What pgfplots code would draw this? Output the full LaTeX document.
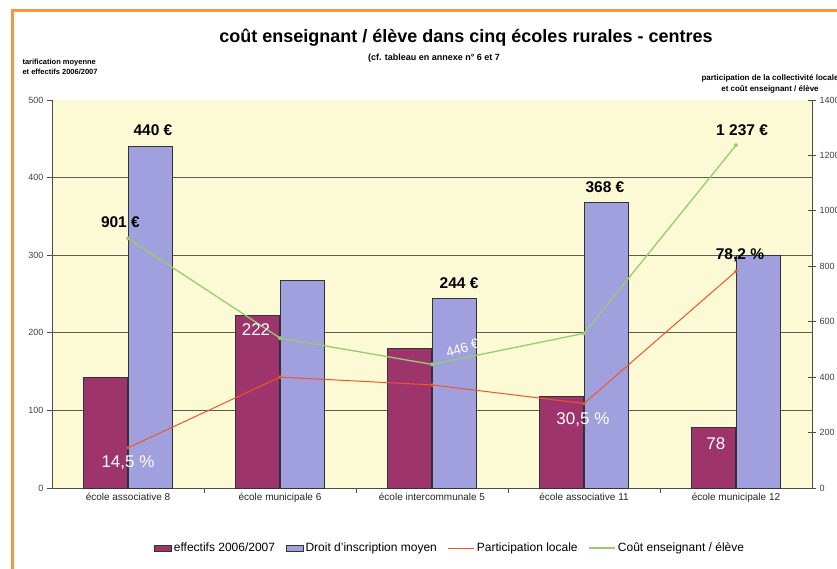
\documentclass[border=0pt]{standalone}
\usepackage{pgfplots}
\pgfplotsset{compat=1.18}
\usepackage{fontspec}
\setmainfont{Liberation Sans}
\definecolor{barPurple}{RGB}{158,52,108}
\definecolor{barLav}{RGB}{160,160,222}
\definecolor{bgYellow}{RGB}{252,250,212}
\definecolor{gridCol}{RGB}{95,92,80}
\definecolor{lineRed}{RGB}{240,85,40}
\definecolor{lineGreen}{RGB}{150,205,110}
\definecolor{frameOrange}{RGB}{245,150,70}

\pgfplotstableread{
x eff droit
0 143 440
1 222 268
2 180 244
3 118 368
4 78  300
}\bars
\pgfplotstableread{
x part cout
0 145 901
1 400 541
2 372 446
3 305 558
4 782 1237
}\lines

\begin{document}
\begin{tikzpicture}
\fill[white] (0,0) rectangle (837pt,-569pt);
\path[use as bounding box] (0,0) rectangle (837pt,-569pt);
\draw[frameOrange, line width=3pt] (12pt,-569pt) -- (12pt,-11pt) -- (837pt,-11pt);

\node[font=\fontsize{18}{20}\selectfont\bfseries] at (466pt,-38pt)
  {coût enseignant / élève dans cinq écoles rurales - centres};
\node[font=\fontsize{9}{10}\selectfont\bfseries] at (434pt,-58pt)
  {(cf. tableau en annexe n° 6 et 7};
\node[font=\fontsize{7.5}{10}\selectfont\bfseries, align=left, anchor=north west] at (19pt,-56pt)
  {tarification moyenne\\ et effectifs 2006/2007};
\node[font=\fontsize{8}{11}\selectfont\bfseries, align=center, anchor=north] at (770pt,-71pt)
  {participation de la collectivité locale\\ et coût enseignant / élève};

\begin{axis}[
  at={(52pt,-488pt)}, anchor=south west,
  scale only axis, width=760pt, height=388pt,
  xmin=-0.5, xmax=4.5, ymin=0, ymax=500,
  axis x line*=bottom, axis y line*=left,
  axis line style={draw=black!70, line width=0.8pt},
  axis background/.style={fill=bgYellow},
  ybar, bar width=44pt,
  xtick={0.5,1.5,2.5,3.5}, xticklabels={},
  extra x ticks={0,1,2,3,4},
  extra x tick labels={école associative 8, école municipale 6, école intercommunale 5, école associative 11, école municipale 12},
  extra x tick style={major tick length=0pt},
  ytick={0,100,...,500},
  extra y ticks={100,200,300,400}, extra y tick labels={},
  extra y tick style={grid=major, major tick length=0pt},
  grid style={draw=gridCol, line width=1.3pt},
  tick align=outside, major tick length=5pt,
  tick style={draw=black!70, line width=0.8pt},
  /pgf/number format/assume math mode=true,
  yticklabel style={font=\fontsize{9}{10}\selectfont, text=black!75},
  xticklabel style={font=\fontsize{10}{12}\selectfont, text=black!85, yshift=-2pt},
]
\addplot[fill=barPurple, draw=black!80, line width=0.6pt, bar shift=-22.5pt] table[x=x, y=eff] {\bars};
\addplot[fill=barLav, draw=black!80, line width=0.6pt, bar shift=22pt] table[x=x, y=droit] {\bars};
\end{axis}

\begin{axis}[
  at={(52pt,-488pt)}, anchor=south west,
  scale only axis, width=760pt, height=388pt,
  xmin=-0.5, xmax=4.5, ymin=0, ymax=1400,
  axis x line=none, axis y line*=right,
  axis line style={draw=black!70, line width=0.8pt},
  ytick={0,200,...,1400},
  tick align=center, major tick length=8pt,
  tick style={draw=black!70, line width=0.8pt},
  /pgf/number format/assume math mode=true,
  /pgf/number format/set thousands separator={},
  yticklabel style={font=\fontsize{9}{10}\selectfont, text=black!75},
  legend columns=4,
  legend style={draw=none, fill=none, at={(0.524,-0.155)}, anchor=center,
    font=\fontsize{12}{14}\selectfont, /tikz/every even column/.append style={column sep=9pt}},
  legend image code/.code={\draw[#1] (0pt,0pt) -- (26pt,0pt);},
  clip=false,
]
\addlegendimage{area legend, fill=barPurple, draw=black!80}
\addlegendentry{effectifs 2006/2007}
\addlegendimage{area legend, fill=barLav, draw=black!80}
\addlegendentry{Droit d'inscription moyen}
\addplot[lineRed, line width=1pt, mark=*, mark size=1.2pt] table[x=x, y=part] {\lines};
\addlegendentry{Participation locale}
\addplot[lineGreen, line width=1.3pt, mark=*, mark size=1.3pt] table[x=x, y=cout] {\lines};
\addlegendentry{Coût enseignant / élève}

\begin{scope}[every node/.style={font=\fontsize{15.5}{17}\selectfont\bfseries}]
\node at (axis cs:0.164,1291) {440 €};
\node at (axis cs:-0.05,960) {901 €};
\node at (axis cs:2.178,739) {244 €};
\node at (axis cs:3.138,1086) {368 €};
\node at (axis cs:4.04,1291) {1 237 €};
\node at (axis cs:4.026,840) {78,2 \%};
\end{scope}
\begin{scope}[every node/.style={font=\fontsize{17}{19}\selectfont, text=white}]
\node at (axis cs:0.842,571) {222};
\node[rotate=18, font=\fontsize{13.5}{15}\selectfont, inner sep=0pt] at (axis cs:2.2,505) {446 €};
\node at (axis cs:2.993,246) {30,5 \%};
\node at (axis cs:3.868,160) {78};
\node at (axis cs:0.0,90) {14,5 \%};
\end{scope}
\end{axis}
\end{tikzpicture}
\end{document}
